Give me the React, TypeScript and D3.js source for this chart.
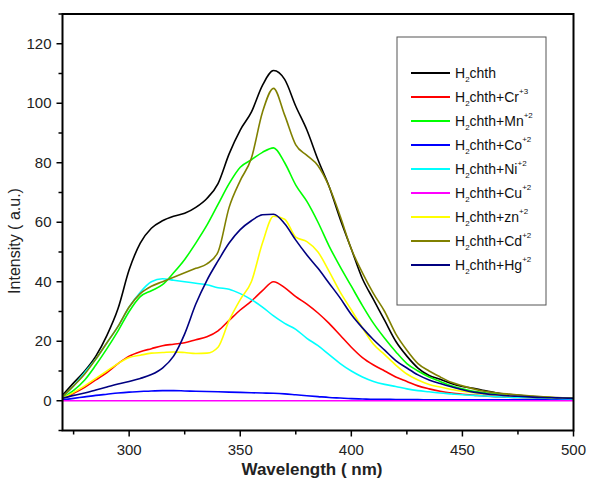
import React from 'react';
import * as d3 from 'd3';

// wavelength grid (nm), every 5 nm from 270 to 500
const wavelengths = d3.range(270, 501, 5);

const h2chth = [1.8, 6, 10, 15, 22, 31, 44, 53, 58, 60.5, 62, 63, 65, 68, 73, 83, 91, 97, 106, 111, 108, 99, 91, 81, 72, 61, 51, 41, 34, 27, 20, 15, 11, 8.5, 7.2, 5.8, 4.8, 4.2, 3.4, 2.7, 2.2, 1.8, 1.5, 1.3, 1.1, 0.9, 0.8];
const crData = [0.8, 2.5, 4.5, 7, 9.5, 12.5, 15, 16.5, 17.5, 18.5, 19, 19.5, 20.5, 21.5, 23.5, 27, 30.5, 33.5, 37, 40, 38, 35, 32.5, 29.5, 26, 22, 18, 14.5, 12, 10, 8, 6.5, 5, 4, 3.2, 2.6, 2.2, 1.9, 1.6, 1.4, 1.2, 1.1, 1, 0.9, 0.8, 0.7, 0.6];
const mnData = [1, 3.5, 7, 12, 17.5, 23.5, 30, 35, 37, 39, 43, 47.5, 53, 59, 66, 73, 78.5, 81, 83.5, 85, 80, 72.5, 67, 60, 52, 45, 38.5, 32, 26, 21, 16.5, 12.5, 10, 8, 6.5, 5, 4, 3.2, 2.7, 2.3, 2, 1.7, 1.5, 1.2, 1, 0.9, 0.8];
const coData = [0.3, 0.8, 1.3, 1.8, 2.2, 2.6, 2.9, 3.1, 3.3, 3.4, 3.4, 3.3, 3.2, 3.1, 3, 2.9, 2.8, 2.7, 2.6, 2.5, 2.3, 2, 1.7, 1.4, 1.1, 0.9, 0.7, 0.6, 0.5, 0.5, 0.4, 0.4, 0.4, 0.3, 0.3, 0.3, 0.3, 0.3, 0.3, 0.3, 0.3, 0.3, 0.3, 0.3, 0.3, 0.3, 0.3];
const niData = [1.3, 5, 9.5, 14, 19.5, 25, 31.5, 36.5, 40, 41, 40.5, 40, 39.5, 39, 38, 37.5, 36, 34, 31.5, 28.5, 26, 24, 21, 18.5, 15.5, 12.5, 10, 8, 6.5, 5.5, 4.8, 4, 3.4, 3, 2.6, 2.3, 2, 1.8, 1.6, 1.4, 1.2, 1.1, 1, 0.9, 0.8, 0.7, 0.6];
const cuData = [0, 0, 0, 0, 0, 0, 0, 0, 0, 0, 0, 0, 0, 0, 0, 0, 0, 0, 0, 0, 0, 0, 0, 0, 0, 0, 0, 0, 0, 0, 0, 0, 0, 0, 0, 0, 0, 0, 0, 0, 0, 0, 0, 0, 0, 0, 0];
const znData = [0.8, 2.8, 5, 7.5, 10, 12.5, 14.5, 15.3, 16, 16.2, 16.4, 16.2, 15.9, 16, 18, 27, 34, 40, 53, 62, 61, 55, 53.5, 50, 43.5, 36.5, 30.5, 24.5, 19, 15.5, 12, 9, 7, 5.5, 4.6, 3.8, 3.2, 2.7, 2.3, 2, 1.8, 1.6, 1.4, 1.2, 1, 0.9, 0.8];
const cdData = [1.3, 5, 9, 14, 19.5, 25, 31.5, 36, 38.5, 40, 41.5, 43, 44.5, 46, 50, 65, 74, 81.5, 97, 105, 96, 86, 82.5, 79, 72, 62, 51, 43, 36, 30, 22.5, 17, 12.5, 10, 8, 6.2, 5, 4, 3.2, 2.7, 2.3, 2, 1.7, 1.4, 1.2, 1, 0.8];
const hgData = [0.8, 1.8, 2.6, 3.6, 4.6, 5.6, 6.5, 7.5, 8.8, 11, 15, 22.5, 32.5, 40.5, 47, 53, 57.5, 60.5, 62.5, 62.7, 59.5, 54, 49, 44.5, 39.5, 34.5, 29, 24.5, 20.5, 17, 13.5, 11, 8.7, 7, 5.8, 4.7, 3.7, 2.9, 2.4, 2, 1.7, 1.5, 1.3, 1.1, 1, 0.9, 0.8];

// legend: metal symbol and charge (empty for the free ligand)
const metals = ['', 'Cr', 'Mn', 'Co', 'Ni', 'Cu', 'zn', 'Cd', 'Hg'];
const charges = ['', '+3', '+2', '+2', '+2', '+2', '+2', '+2', '+2'];
const colors = ['#000000', '#ff0000', '#00ff00', '#0000ff', '#00ffff', '#ff00ff', '#ffff00', '#808000', '#000080'];
const seriesValues = [h2chth, crData, mnData, coData, niData, cuData, znData, cdData, hgData];

const xTicks = [300, 350, 400, 450, 500];
const yTicks = [0, 20, 40, 60, 80, 100, 120];

const W = 589;
const H = 479;
const font = 'Arial, "Liberation Sans", sans-serif';

export default function App() {
  const x = d3.scaleLinear().domain([270, 500]).range([62.5, 573.5]);
  const y = d3.scaleLinear().domain([-10, 130]).range([430.5, 14]);

  const line = d3.line<[number, number]>()
    .x(d => x(d[0]))
    .y(d => y(d[1]))
    .curve(d3.curveMonotoneX);

  const xMinor = d3.range(275, 500, 50);
  const yMinor = d3.range(-10, 131, 20);

  const [x0, x1] = x.range();
  const [y0, y1] = y.range();

  return (
    <svg width={W} height={H} style={{ position: 'absolute', left: 0, top: 0, background: '#fff' }}>
      {/* curves */}
      <g fill="none" strokeWidth={1.6} strokeLinejoin="round">
        {seriesValues.map((vals, i) => (
          <path key={i}
            d={line(wavelengths.map((w, j) => [w, vals[j]] as [number, number])) || ''}
            stroke={colors[i]} />
        ))}
      </g>

      {/* frame */}
      <rect x={x0} y={y1} width={x1 - x0} height={y0 - y1} fill="none" stroke="#000" strokeWidth={2} />

      {/* ticks */}
      <g stroke="#000" strokeWidth={1.5}>
        {xTicks.map(t => <line key={t} x1={x(t)} x2={x(t)} y1={y0} y2={y0 + 6} />)}
        {xMinor.map(t => <line key={'m' + t} x1={x(t)} x2={x(t)} y1={y0} y2={y0 + 4} />)}
        {yTicks.map(t => <line key={t} x1={x0 - 6} x2={x0} y1={y(t)} y2={y(t)} />)}
        {yMinor.map(t => <line key={'m' + t} x1={x0 - 4} x2={x0} y1={y(t)} y2={y(t)} />)}
      </g>
      <g fontFamily={font} fontSize={15} fill="#222">
        {xTicks.map(t => (
          <text key={t} x={x(t)} y={y0 + 24} textAnchor="middle">{t}</text>
        ))}
        {yTicks.map(t => (
          <text key={t} x={x0 - 11} y={y(t) + 5} textAnchor="end">{t}</text>
        ))}
      </g>

      {/* axis titles */}
      <text x={312} y={475} textAnchor="middle" fontFamily={font} fontSize={17} fontWeight="bold" fill="#222">
        Wavelength ( nm)
      </text>
      <text transform="translate(20,241) rotate(-90)" textAnchor="middle" fontFamily={font} fontSize={16} fill="#222">
        Intensity ( a.u.)
      </text>

      {/* legend */}
      <rect x={397} y={37} width={149} height={268} fill="#fff" stroke="#555" strokeWidth={1} />
      {metals.map((m, i) => {
        const ly = 73 + i * 24;
        return (
          <g key={i}>
            <line x1={411} x2={450} y1={ly} y2={ly} stroke={colors[i]} strokeWidth={2} />
            <text x={455} y={ly + 5} fontFamily={font} fontSize={14} fill="#111">
              H<tspan fontSize={8} dy={4}>2</tspan>
              <tspan dy={-4}>chth{m ? '+' + m : ''}</tspan>
              {charges[i] ? <tspan fontSize={8} dy={-8}>{charges[i]}</tspan> : null}
            </text>
          </g>
        );
      })}
    </svg>
  );
}
